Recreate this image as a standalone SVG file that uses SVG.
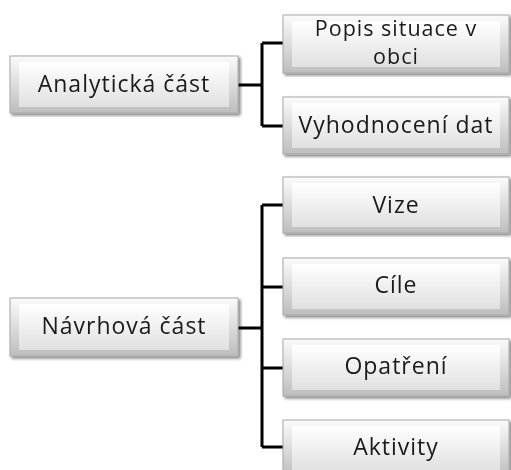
<svg xmlns="http://www.w3.org/2000/svg" width="511" height="470" viewBox="0 0 511 470">
<defs>
<linearGradient id="outer" x1="0" y1="0" x2="0" y2="1">
<stop offset="0" stop-color="#fbfbfb"/>
<stop offset="1" stop-color="#bdbdbd"/>
</linearGradient>
<linearGradient id="inner" x1="0" y1="0" x2="0" y2="1">
<stop offset="0" stop-color="#ffffff"/>
<stop offset="1" stop-color="#e0e0e0"/>
</linearGradient>
<filter id="sh" x="-5%" y="-10%" width="115%" height="130%">
<feGaussianBlur in="SourceAlpha" stdDeviation="1.5"/>
<feOffset dx="1.5" dy="2" result="b"/>
<feComponentTransfer><feFuncA type="linear" slope="0.5"/></feComponentTransfer>
<feMerge><feMergeNode/><feMergeNode in="SourceGraphic"/></feMerge>
</filter>
</defs>
<style>
.o{fill:url(#outer);stroke:#a8a8a8;stroke-width:1}
.i{fill:url(#inner);stroke:none}
.t{font-family:"Open Sans","Noto Sans",sans-serif;font-size:23px;letter-spacing:1px;fill:#1a1a1a;text-anchor:middle}
.s{font-size:21.5px}
.c{fill:none;stroke:#000;stroke-width:3}
</style>
<g id="connectors">
<path class="c" d="M238,85 H262 M262,43 V126 M262,43 H283 M262,126 H283"/>
<path class="c" d="M238,328 H262 M262,205 V447 M262,205 H283 M262,287 H283 M262,368 H283 M262,447 H283"/>
</g>
<g id="analyticka" filter="url(#sh)">
<rect class="o" x="10" y="56" width="228" height="57"/>
<rect class="i" x="19" y="62" width="210" height="45"/>
<text class="t" x="124" y="92">Analytická část</text>
</g>
<g id="popis" filter="url(#sh)">
<rect class="o" x="283" y="15" width="226" height="58"/>
<rect class="i" x="292" y="21" width="208" height="46"/>
<text class="t s" x="396" y="36">Popis situace v</text>
<text class="t s" x="396" y="64">obci</text>
</g>
<g id="vyhodnoceni" filter="url(#sh)">
<rect class="o" x="283" y="97" width="226" height="57"/>
<rect class="i" x="292" y="103" width="208" height="45"/>
<text class="t" x="396" y="133">Vyhodnocení dat</text>
</g>
<g id="navrhova" filter="url(#sh)">
<rect class="o" x="10" y="298" width="228" height="58"/>
<rect class="i" x="19" y="304" width="210" height="46"/>
<text class="t" x="124" y="334">Návrhová část</text>
</g>
<g id="vize" filter="url(#sh)">
<rect class="o" x="283" y="177" width="226" height="56"/>
<rect class="i" x="292" y="183" width="208" height="44"/>
<text class="t" x="396" y="213">Vize</text>
</g>
<g id="cile" filter="url(#sh)">
<rect class="o" x="283" y="258" width="226" height="57"/>
<rect class="i" x="292" y="264" width="208" height="45"/>
<text class="t" x="396" y="293">Cíle</text>
</g>
<g id="opatreni" filter="url(#sh)">
<rect class="o" x="283" y="339" width="226" height="57"/>
<rect class="i" x="292" y="345" width="208" height="45"/>
<text class="t" x="396" y="374">Opatření</text>
</g>
<g id="aktivity" filter="url(#sh)">
<rect class="o" x="283" y="420" width="226" height="57"/>
<rect class="i" x="292" y="426" width="208" height="45"/>
<text class="t" x="396" y="455">Aktivity</text>
</g>
</svg>
